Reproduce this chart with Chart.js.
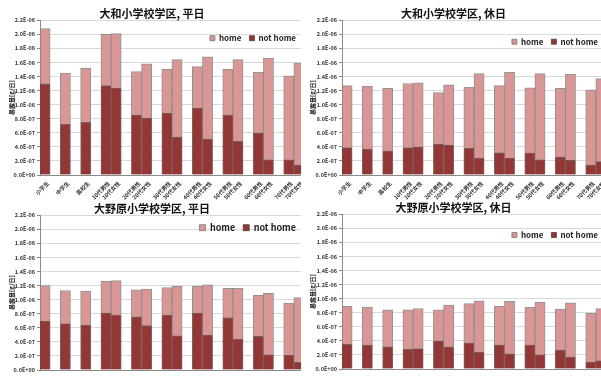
<!DOCTYPE html>
<html>
<head>
<meta charset="utf-8">
<script src="https://cdn.jsdelivr.net/npm/chart.js@4"></script>
<style>
  body { margin: 0; background: #fff; }
  .panel { position: absolute; overflow: hidden; }
  .panel canvas { position: absolute; left: 0; top: 0; }
</style>
</head>
<body>
<div class="panel" style="left:0;top:0;width:301px;height:200px"><canvas id="c1" width="317" height="200"></canvas></div>
<div class="panel" style="left:301px;top:0;width:300px;height:200px"><canvas id="c2" width="330" height="200"></canvas></div>
<div class="panel" style="left:0;top:195px;width:301px;height:181px"><canvas id="c3" width="316" height="200"></canvas></div>
<div class="panel" style="left:301px;top:194px;width:300px;height:182px"><canvas id="c4" width="328" height="200"></canvas></div>
<script>
// 属性カテゴリ（グループの間は空き列）
const categories = ['小学生', '中学生', '高校生',
  '10代男性', '10代女性', '20代男性', '20代女性', '30代男性', '30代女性',
  '40代男性', '40代女性', '50代男性', '50代女性', '60代男性', '60代女性',
  '70代男性', '70代女性'];
const gapAfter = [0, 1, 2, 4, 6, 8, 10, 12, 14];

// 値の単位は 1E-06 [g/日]
const UNIT = 1e-6;
const yMax = 2.2;
const yStep = 0.2;

// 大和小学校学区, 平日
const yamatoWeekdayNotHome = [1.30, 0.72, 0.75, 1.27, 1.24, 0.85, 0.81, 0.88, 0.54, 0.95, 0.51, 0.85, 0.48, 0.60, 0.22, 0.22, 0.14];
const yamatoWeekdayHome    = [0.78, 0.73, 0.77, 0.73, 0.77, 0.62, 0.77, 0.62, 1.10, 0.59, 1.17, 0.65, 1.16, 0.86, 1.44, 1.19, 1.45];
// 大和小学校学区, 休日
const yamatoHolidayNotHome = [0.39, 0.37, 0.34, 0.39, 0.40, 0.44, 0.43, 0.38, 0.24, 0.32, 0.24, 0.31, 0.22, 0.26, 0.21, 0.14, 0.19];
const yamatoHolidayHome    = [0.88, 0.89, 0.89, 0.91, 0.91, 0.73, 0.85, 0.87, 1.20, 0.95, 1.22, 0.93, 1.22, 0.97, 1.22, 1.07, 1.18];
// 大野原小学校学区, 平日
const onoharaWeekdayNotHome = [0.69, 0.66, 0.64, 0.81, 0.78, 0.76, 0.63, 0.78, 0.49, 0.81, 0.50, 0.74, 0.44, 0.48, 0.22, 0.21, 0.11];
const onoharaWeekdayHome    = [0.51, 0.47, 0.48, 0.45, 0.49, 0.38, 0.52, 0.39, 0.70, 0.38, 0.71, 0.42, 0.72, 0.58, 0.87, 0.74, 0.92];
// 大野原小学校学区, 休日
const onoharaHolidayNotHome = [0.35, 0.34, 0.32, 0.28, 0.29, 0.40, 0.32, 0.37, 0.24, 0.34, 0.22, 0.34, 0.20, 0.27, 0.17, 0.10, 0.12];
const onoharaHolidayHome    = [0.54, 0.54, 0.52, 0.56, 0.57, 0.44, 0.59, 0.56, 0.73, 0.55, 0.74, 0.54, 0.75, 0.58, 0.77, 0.69, 0.74];

const COLOR_HOME = '#D99694';
const COLOR_NOT_HOME = '#943634';

Chart.defaults.font.family = "'Noto Sans CJK JP', sans-serif";
Chart.defaults.color = '#222';

// 空き列を挟んで並べ直す
function spread(values) {
  const out = [];
  values.forEach((v, i) => {
    out.push(v);
    if (gapAfter.includes(i)) out.push(null);
  });
  return out;
}

function toValues(values) {
  return spread(values).map(v => v === null ? null : v * UNIT);
}

function sciLabel(value) {
  const [m, e] = Number(value).toExponential(1).split('e');
  const exp = parseInt(e, 10);
  return m + 'E' + (exp < 0 ? '-' : '+') + String(Math.abs(exp)).padStart(2, '0');
}

const slotLabels = spread(categories).map(l => l === null ? '' : l);

// 凡例をプロット内の右上に横並びで置く
const rowLegend = {
  id: 'rowLegend',
  beforeUpdate(chart) {
    if (chart.legend) chart.legend.isHorizontal = () => true;
  },
  afterLayout(chart) {
    const lg = chart.legend;
    if (!lg) return;
    lg.left = chart.chartArea.left;
    lg.right = chart.chartArea.right;
  }
};

function makeChart(id, title, notHome, home, cfg) {
  const canvas = document.getElementById(id);
  new Chart(canvas, {
    type: 'bar',
    data: {
      labels: slotLabels,
      datasets: [{
        label: 'not home',
        data: toValues(notHome),
        backgroundColor: COLOR_NOT_HOME,
        borderColor: 'rgba(90,60,60,0.8)',
        borderWidth: 1
      }, {
        label: 'home',
        data: toValues(home),
        backgroundColor: COLOR_HOME,
        borderColor: 'rgba(120,120,120,0.8)',
        borderWidth: 1
      }]
    },
    plugins: [rowLegend],
    options: {
      responsive: false,
      animation: false,
      layout: { padding: { left: 0, right: canvas.width - cfg.right, top: 0, bottom: 0 } },
      datasets: { bar: { categoryPercentage: 1, barPercentage: 1 } },
      scales: {
        x: {
          stacked: true,
          grid: { display: false, drawTicks: false },
          border: { color: '#8a8a8a' },
          ticks: {
            autoSkip: false,
            minRotation: 45,
            maxRotation: 45,
            padding: 5,
            labelOffset: 3,
            font: { size: 5.5, weight: 'bold' },
            color: '#333'
          },
          afterFit: s => { s.height = 25; }
        },
        y: {
          stacked: true,
          min: 0,
          max: yMax * UNIT,
          grid: { color: '#d9d9d9', tickLength: 3, tickColor: '#8a8a8a' },
          border: { color: '#8a8a8a' },
          ticks: {
            stepSize: yStep * UNIT,
            maxTicksLimit: 13,
            padding: 2,
            font: { size: 5.5, weight: 'bold' },
            color: '#333',
            callback: v => sciLabel(v)
          },
          title: {
            display: true,
            text: '暴露量[g/日]',
            font: { size: 6, weight: 'bold' },
            color: '#222',
            padding: { top: 8, bottom: 0 }
          },
          afterFit: s => { s.width = cfg.left; }
        }
      },
      plugins: {
        title: {
          display: true,
          text: title,
          color: '#111',
          font: { size: 11, weight: 'bold' },
          padding: { top: 7, bottom: 0 }
        },
        legend: {
          position: 'chartArea',
          align: 'end',
          reverse: true,
          title: {
            display: cfg.drop > 2.4,
            text: '',
            font: { size: 2 },
            padding: { top: (cfg.drop - 2.4) / 2, bottom: (cfg.drop - 2.4) / 2 }
          },
          labels: {
            boxWidth: cfg.box,
            boxHeight: cfg.box,
            padding: 8,
            color: '#222',
            font: { size: cfg.font, weight: 'bold' }
          }
        },
        tooltip: { enabled: false }
      }
    }
  });
}

makeChart('c1', '大和小学校学区, 平日', yamatoWeekdayNotHome, yamatoWeekdayHome,
  { left: 40, right: 304, drop: 6, font: 8, box: 5 });
makeChart('c2', '大和小学校学区, 休日', yamatoHolidayNotHome, yamatoHolidayHome,
  { left: 41, right: 305, drop: 9.5, font: 8, box: 5 });
makeChart('c3', '大野原小学校学区, 平日', onoharaWeekdayNotHome, onoharaWeekdayHome,
  { left: 40, right: 304, drop: 0, font: 9, box: 6 });
makeChart('c4', '大野原小学校学区, 休日', onoharaHolidayNotHome, onoharaHolidayHome,
  { left: 41, right: 305, drop: 8.8, font: 8, box: 5 });
</script>
</body>
</html>
